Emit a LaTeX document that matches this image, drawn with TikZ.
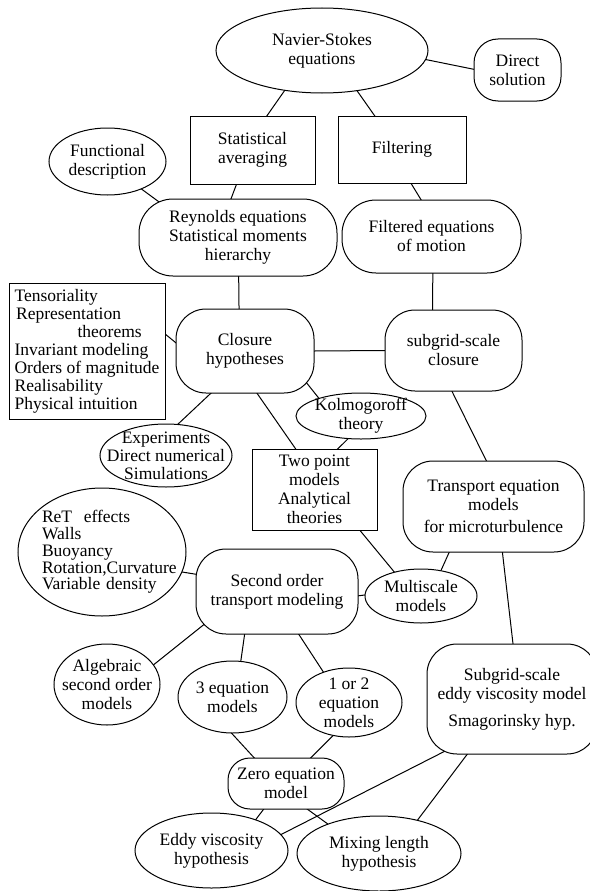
\documentclass[tikz,border=0pt]{standalone}
\usepackage{fontspec}
\setmainfont{Liberation Serif}
\newfontfamily\tnr{Liberation Serif}
\usetikzlibrary{shapes.geometric,backgrounds}
\begin{document}
\begin{tikzpicture}[x=1pt,y=-1pt,
  oval/.style={ellipse,draw,fill=white,line width=1pt,inner sep=-20pt,
               align=center,font=\tnr\fontsize{17.5}{19}\selectfont},
  sq/.style  ={rectangle,draw,fill=white,line width=1pt,inner sep=-20pt,
               align=center,font=\tnr\fontsize{17.5}{19}\selectfont},
  pill/.style={rectangle,draw,fill=white,line width=1pt,inner sep=-20pt,rounded corners=30pt,
               align=center,font=\tnr\fontsize{17.5}{19}\selectfont},
  ln/.style  ={line width=1pt,shorten <=-16pt,shorten >=-16pt}
]
\useasboundingbox (0,0) rectangle (589,891);
\node[oval,minimum width=212,minimum height=85] at (322,50.5)(ns){Navier-Stokes\\equations};
\node[pill,rounded corners=24pt,minimum width=87,minimum height=62] at (517.5,70)(ds){Direct\\solution};
\node[sq,minimum width=125,minimum height=68] at (252.5,150)(sa){Statistical\\averaging};
\node[sq,minimum width=128,minimum height=67] at (402,149.5)(fi){Filtering};
\node[oval,minimum width=117,minimum height=67] at (107.5,161.5)(fd){Functional\\description};
\node[pill,rounded corners=34pt,minimum width=198,minimum height=77] at (238,237.5)(rey){Reynolds equations\\Statistical moments\\hierarchy};
\node[pill,rounded corners=34pt,minimum width=179,minimum height=73] at (431.5,236.5)(feq){Filtered equations\\of motion};

\node[sq,align=left,font=\tnr\fontsize{17.5}{18}\selectfont,minimum width=156,minimum height=136] at (87,351)(ten)
  {Tensoriality\\\hspace*{1.5pt}Representation\\\hspace*{63pt}theorems\\Invariant modeling\\Orders of magnitude\\Realisability\\Physical intuition};
\node[pill,minimum width=138,minimum height=84] at (245,351)(clo){Closure\\hypotheses};
\node[pill,minimum width=137,minimum height=81] at (453.5,350.5)(sgc){subgrid-scale\\closure};
\node[oval,minimum width=130,minimum height=46] at (361,416)(kol){Kolmogoroff\\theory};
\node[oval,font=\tnr\fontsize{17.5}{18}\selectfont,minimum width=132,minimum height=63] at (166,455.5)(exp){Experiments\\Direct numerical\\Simulations};
\node[sq,minimum width=125,minimum height=81] at (314.5,489.5)(tpm){Two point\\models\\Analytical\\theories};
\node[pill,minimum width=181,minimum height=91] at (493.5,506.5)(tem){Transport equation\\models\\[3pt]for microturbulence};

\node[oval,text width=120pt,align=left,font=\tnr\fontsize{17.5}{16.8}\selectfont,minimum width=168,minimum height=128] at (102,552)(ret)
  {ReT\ \ effects\\Walls\\Buoyancy\\\mbox{Rotation,Curvature}\\Variable density};
\node[pill,minimum width=162,minimum height=85] at (277,591.5)(sot){Second order\\transport modeling};
\node[oval,minimum width=112,minimum height=54] at (421,596)(msm){Multiscale\\models};
\node[oval,minimum width=106,minimum height=81] at (107,684.5)(alg){Algebraic\\second order\\models};
\node[oval,minimum width=109,minimum height=72] at (232.5,697)(teq){3 equation\\models};
\node[oval,minimum width=106,minimum height=69] at (349,702.5)(oeq){1 or 2\\equation\\models};
\node[pill,minimum width=170,minimum height=110] at (512,699)(sev){Subgrid-scale\\eddy viscosity model\\[8pt]Smagorinsky hyp.};
\node[pill,rounded corners=22pt,minimum width=116,minimum height=51] at (286,783.5)(zem){Zero equation\\model};
\node[oval,minimum width=153,minimum height=75] at (211.5,850.5)(evh){Eddy viscosity\\hypothesis};
\node[oval,minimum width=164,minimum height=75] at (379,853.5)(mlh){Mixing length\\hypothesis};

\begin{scope}[on background layer]
\draw[ln](ns.227)--(sa.67); \draw[ln](ns.311)--(fi.129);
\draw[ln](ns.355)--(ds.179);
\draw[ln](sa.245)--(rey.100); \draw[ln](fi.285)--(feq.106);
\draw[ln](fd.321)--(rey.155);
\draw[ln](rey.271)--(clo.98); \draw[ln](feq.272)--(sgc.117);
\draw[ln](ten.12)--(clo.173); \draw[ln](clo.east)--(sgc.west);
\draw[ln](clo.329)--(kol.157); \draw[ln](clo.231)--(exp.69);
\draw[ln](clo.286)--(tpm.115); \draw[ln](kol.240)--(tpm.60);
\draw[ln](sgc.268)--(tem.99);
\draw[ln](tpm.318)--(msm.138); \draw[ln](tem.226)--(msm.52);
\draw[ln](tem.281)--(sev.89);
\draw[ln](ret.346)--(sot.168); \draw[ln](sot.357)--(msm.179);
\draw[ln](sot.206)--(alg.23); \draw[ln](sot.233)--(teq.77);
\draw[ln](sot.297)--(oeq.130);
\draw[ln](teq.269)--(zem.141); \draw[ln](oeq.244)--(zem.46);
\draw[ln](zem.229)--(evh.35); \draw[ln](zem.310)--(mlh.150);
\draw[ln](sev.217)--(evh.13); \draw[ln](sev.231)--(mlh.41);
\end{scope}
\end{tikzpicture}
\end{document}
